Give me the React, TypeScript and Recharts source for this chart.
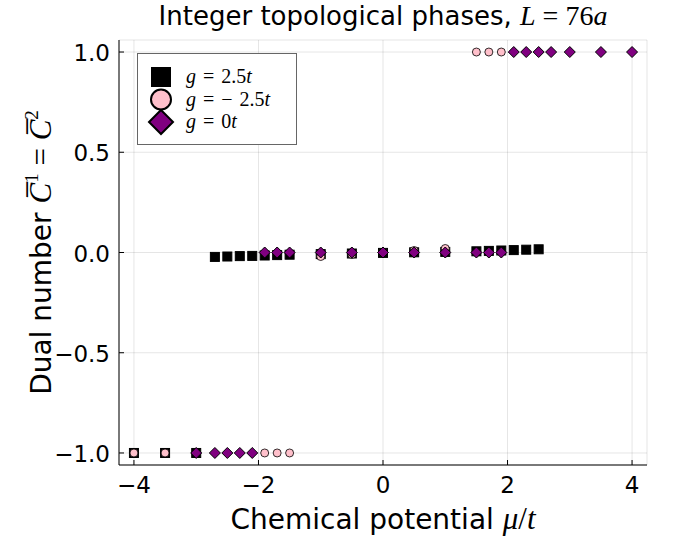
import React from 'react';
import { ScatterChart, Scatter, XAxis, YAxis, CartesianGrid, Legend } from 'recharts';

// chemical potential values (units of t) and the dual Chern number for each coupling g
const muPos = [-4, -3.5, -3, -2.7, -2.5, -2.3, -2.1, -1.9, -1.7, -1.5, -1, -0.5, 0, 0.5, 1, 1.5, 1.7, 1.9, 2.1, 2.3, 2.5];
const dualPos = [-1, -1, -1, -0.022, -0.02, -0.018, -0.017, -0.015, -0.013, -0.011, -0.008, -0.005, -0.002, 0.001, 0.003, 0.006, 0.008, 0.01, 0.012, 0.014, 0.016];

const muNeg = [-4, -3.5, -1.9, -1.7, -1.5, -1, -0.5, 0, 0.5, 1, 1.5, 1.7, 1.9];
const dualNeg = [-1, -1, -1, -1, -1, -0.02, -0.01, 0, 0.01, 0.02, 1, 1, 1];

const muZero = [-3, -2.7, -2.5, -2.3, -2.1, -1.9, -1.7, -1.5, -1, -0.5, 0, 0.5, 1, 1.5, 1.7, 1.9, 2.1, 2.3, 2.5, 2.7, 3, 3.5, 4];
const dualZero = [-1, -1, -1, -1, -1, 0, 0, 0, 0, 0, 0, 0, 0, 0, 0, 0, 1, 1, 1, 1, 1, 1, 1];

const xTicks = [-4, -2, 0, 2, 4];
const yTicks = [-1, -0.5, 0, 0.5, 1];

const PINK = '#ffc0cb';
const PURPLE = '#800080';
const SANS = 'DejaVu Sans, sans-serif';
const MATH = 'Liberation Serif, serif';

const toPoints = (mu: number[], c: number[]) => mu.map((m, i) => ({ mu: m, c: c[i] }));

const fmt = (v: number, digits: number) => {
  const s = v.toFixed(digits);
  return s.startsWith('-') ? '\u2212' + s.slice(1) : s;
};

const SquareDot = ({ cx, cy }: any) => (
  <rect x={cx - 4.5} y={cy - 4.5} width={9} height={9} fill="#000" stroke="#000" strokeWidth={1} />
);
const CircleDot = ({ cx, cy }: any) => (
  <circle cx={cx} cy={cy} r={4} fill={PINK} stroke="#000" strokeWidth={0.8} />
);
const DiamondDot = ({ cx, cy }: any) => (
  <path d={`M${cx},${cy - 5.5}L${cx + 5.5},${cy}L${cx},${cy + 5.5}L${cx - 5.5},${cy}Z`} fill={PURPLE} stroke="#000" strokeWidth={1} />
);

const XTick = ({ x, y, payload }: any) => (
  <g>
    <line x1={x} x2={x} y1={y} y2={y - 5} stroke="#000" />
    <text x={x} y={y + 28} textAnchor="middle" fontSize={23} fontFamily={SANS} fill="#000">
      {fmt(payload.value, 0)}
    </text>
  </g>
);

const YTick = ({ x, y, payload }: any) => (
  <g>
    <line x1={x} x2={x + 5} y1={y} y2={y} stroke="#000" />
    <text x={x - 9} y={y + 9} textAnchor="end" fontSize={23} fontFamily={SANS} fill="#000">
      {fmt(payload.value, 1)}
    </text>
  </g>
);

const XLabel = ({ viewBox }: any) => {
  const cx = viewBox.x + viewBox.width / 2;
  return (
    <text x={cx} y={529} textAnchor="middle" fontSize={28} fontFamily={SANS} fill="#000">
      Chemical potential{' '}
      <tspan fontFamily={MATH} fontStyle="italic" fontSize={31}>μ</tspan>
      <tspan fontFamily={MATH} fontSize={31}>/</tspan>
      <tspan fontFamily={MATH} fontStyle="italic" fontSize={31}>t</tspan>
    </text>
  );
};

const YLabel = ({ viewBox }: any) => {
  const cy = viewBox.y + viewBox.height / 2;
  return (
    <text x={0} y={0} transform={`translate(51, ${cy}) rotate(-90)`} textAnchor="middle" fontSize={28} fontFamily={SANS} fill="#000">
      Dual number{' '}
      <tspan fontFamily={MATH} fontStyle="italic" fontSize={31}>{'C\u0305'}</tspan>
      <tspan fontFamily={MATH} fontSize={19} dy={-13}>1</tspan>
      <tspan fontFamily={MATH} fontSize={31} dy={13}>{' = '}</tspan>
      <tspan fontFamily={MATH} fontStyle="italic" fontSize={31}>{'C\u0305'}</tspan>
      <tspan fontFamily={MATH} fontSize={19} dy={-13}>2</tspan>
    </text>
  );
};

const legendRows = [
  { key: 'pos', marker: 'square', coef: '2.5' },
  { key: 'neg', marker: 'circle', coef: '\u2212 2.5' },
  { key: 'zero', marker: 'diamond', coef: '0' },
];

const LegendBox = () => (
  <div style={{ width: 160, height: 92, border: '1.5px solid #666', background: '#fff', boxSizing: 'border-box' }}>
    <svg width={157} height={89} style={{ display: 'block' }}>
      {legendRows.map((row, i) => {
        const cy = 23 + i * 22.5;
        const cx = 23;
        return (
          <g key={row.key}>
            {row.marker === 'square' && <rect x={cx - 10} y={cy - 10} width={20} height={20} fill="#000" />}
            {row.marker === 'circle' && <circle cx={cx} cy={cy} r={10} fill={PINK} stroke="#000" strokeWidth={2} />}
            {row.marker === 'diamond' && (
              <path d={`M${cx},${cy - 12}L${cx + 12},${cy}L${cx},${cy + 12}L${cx - 12},${cy}Z`} fill={PURPLE} stroke="#000" strokeWidth={2} />
            )}
            <text x={48} y={cy + 6} fontSize={20} fontFamily={MATH} fill="#000" wordSpacing={2}>
              <tspan fontStyle="italic">g</tspan>
              {' = '}
              {row.coef}
              <tspan fontStyle="italic">t</tspan>
            </text>
          </g>
        );
      })}
    </svg>
  </div>
);

export default function App() {
  return (
    <div style={{ position: 'absolute', left: 0, top: 0, width: 675, height: 542, background: '#fff' }}>
      <div
        style={{
          position: 'absolute',
          left: 0,
          width: 766,
          top: 0,
          textAlign: 'center',
          fontFamily: SANS,
          fontSize: 26,
          lineHeight: '32px',
          color: '#000',
        }}
      >
        Integer topological phases,{' '}
        <span style={{ fontFamily: MATH, fontStyle: 'italic', fontSize: 28 }}>L</span>
        <span style={{ fontFamily: MATH, fontSize: 28 }}> = 76</span>
        <span style={{ fontFamily: MATH, fontStyle: 'italic', fontSize: 28 }}>a</span>
      </div>
      <ScatterChart width={675} height={542} margin={{ top: 40, right: 28, bottom: 47, left: 59 }}>
        <CartesianGrid stroke="#000" strokeOpacity={0.1} />
        <XAxis
          type="number"
          dataKey="mu"
          domain={[-4.24, 4.24]}
          ticks={xTicks}
          allowDataOverflow
          height={30}
          tickSize={0}
          tickMargin={0}
          tickLine={false}
          axisLine={{ stroke: '#000' }}
          tick={<XTick />}
          label={<XLabel />}
        />
        <YAxis
          type="number"
          dataKey="c"
          domain={[-1.06, 1.06]}
          ticks={yTicks}
          allowDataOverflow
          width={60}
          tickSize={0}
          tickMargin={0}
          tickLine={false}
          axisLine={{ stroke: '#000' }}
          tick={<YTick />}
          label={<YLabel />}
        />
        <Legend
          layout="vertical"
          align="center"
          verticalAlign="middle"
          content={<LegendBox />}
          wrapperStyle={{ left: 137, top: 53, width: 160, height: 92 }}
        />
        <Scatter name="g = 2.5t" data={toPoints(muPos, dualPos)} shape={<SquareDot />} isAnimationActive={false} />
        <Scatter name="g = -2.5t" data={toPoints(muNeg, dualNeg)} shape={<CircleDot />} isAnimationActive={false} />
        <Scatter name="g = 0t" data={toPoints(muZero, dualZero)} shape={<DiamondDot />} isAnimationActive={false} />
      </ScatterChart>
    </div>
  );
}
